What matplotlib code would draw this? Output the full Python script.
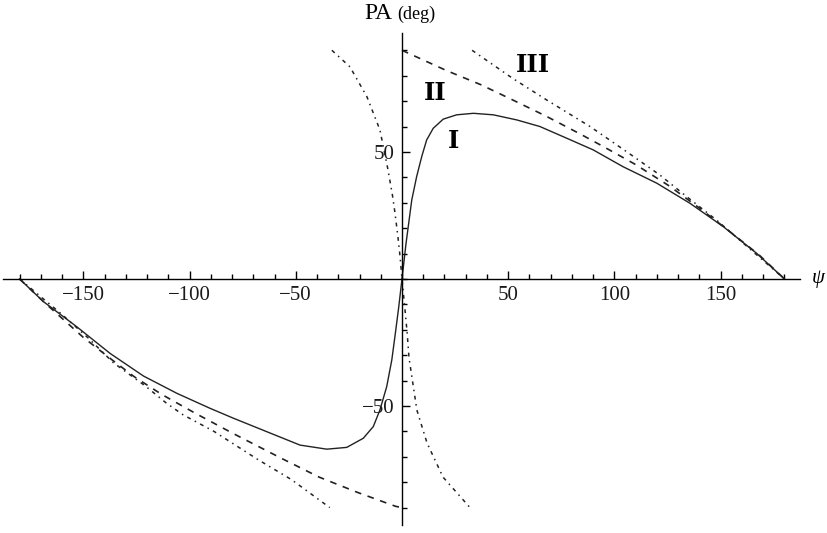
import numpy as np
import matplotlib

matplotlib.use("Agg")

import matplotlib.pyplot as plt
from matplotlib.ticker import FixedLocator

# ==================================================
# DATA
# ==================================================

# curve I (solid)
psi_I_left = [-180, -168.8, -153.1, -137.4, -121.7, -106, -90.4, -79.4, -63.7,
              -48, -35.4, -26, -18.2, -13.5, -10.4, -7.2, -4.8, -3.3, -1.6, 0]
pa_I_left = [0, -8.9, -18.8, -29.3, -38.2, -45, -50.9, -54.8, -60.1,
             -65.4, -67, -66.3, -62.7, -58.1, -51.6, -42.4, -31.9, -22.5, -11.5, 0]
psi_I_right = [0, 1.9, 4.6, 6.9, 9.3, 11.6, 14.7, 19.4, 25.7, 33.6, 43, 54,
               64.9, 77.5, 90, 104, 119.9, 135.5, 151.2, 166.9, 180]
pa_I_right = [0, 14, 31.1, 40.3, 48.2, 54.7, 59.3, 62.9, 64.6, 65.2, 64.6, 62.6,
              60, 55.4, 50.8, 44.2, 37.7, 29.8, 20.6, 10.1, 0]

# curve II (dashed)
psi_II_left = [-180, -168, -150, -137, -126, -113, -97, -80, -57, -39, -21, -3, 0]
pa_II_left = [0, -9.5, -23, -31.5, -38.5, -45.5, -53, -60.6, -70.5, -78, -84, -89.5, -90]
psi_II_right = [0, 21, 37, 52, 68, 84, 95, 110, 126, 139, 153, 168, 180]
pa_II_right = [90, 82, 76.5, 70.5, 64, 57, 52, 45, 36.5, 28.5, 19.5, 9.5, 0]

# curve III (dash-dot), three branches
psi_III_left = [-180, -160, -148, -135.8, -121, -110.7, -103, -88.5, -68, -52, -34]
pa_III_left = [0, -14, -23, -33, -42, -49, -53.5, -60, -71, -79, -90]
psi_III_mid = [-33, -24.5, -16.5, -10.4, -6.6, -4.5, -3.3, -1.9, -0.9, 0,
               1.4, 2.4, 3.3, 7, 11.8, 19.3, 32]
pa_III_mid = [90, 83.5, 71.7, 58.7, 43, 33, 26, 16.5, 8.7, 0,
              -12, -21, -31, -51.6, -64.6, -78, -90]
psi_III_right = [33, 52, 68, 88.5, 105.7, 121.4, 134, 148, 160.6, 180]
pa_III_right = [90, 79, 70.5, 60, 50.1, 40.9, 32.4, 23.2, 14.1, 0]

curve_labels = ["I", "II", "III"]
label_psi = [24.5, 15.5, 61.6]
label_pa = [51.6, 70.5, 81.6]

x_major = [-150, -100, -50, 50, 100, 150]
x_minor = list(range(-180, 181, 10))
y_major = [-50, 50]
y_minor = list(range(-90, 91, 10))

# ==================================================
# FIGURE
# ==================================================

fig = plt.figure(figsize=(8.28, 5.33), dpi=100)
ax = fig.add_axes([0, 0, 1, 1])
ax.set_xlim(-189.2, 200.5)
ax.set_ylim(-100, 109.8)

line_color = "#222222"
solid = dict(color=line_color, lw=1.0, linestyle="-")
dashed = dict(color=line_color, lw=1.2, linestyle=(0, (4, 4)))
dashdot = dict(color=line_color, lw=1.1, linestyle=(0, (2.5, 3, 1, 3)))

ax.plot(psi_I_left, pa_I_left, **solid)
ax.plot(psi_I_right, pa_I_right, **solid)
ax.plot(psi_II_left, pa_II_left, **dashed)
ax.plot(psi_II_right, pa_II_right, **dashed)
ax.plot(psi_III_left, pa_III_left, **dashdot)
ax.plot(psi_III_mid, pa_III_mid, **dashdot)
ax.plot(psi_III_right, pa_III_right, **dashdot)

for lab, px, py in zip(curve_labels, label_psi, label_pa):
    ax.text(px, py, lab, ha="center", va="baseline",
            family="DejaVu Serif", weight="bold", fontsize=17.5)

# ==================================================
# AXES THROUGH THE ORIGIN
# ==================================================

for side in ["top", "right"]:
    ax.spines[side].set_visible(False)

ax.spines["left"].set_position(("data", 0))
ax.spines["bottom"].set_position(("data", 0))
ax.spines["left"].set_bounds(-97, 97)
ax.spines["bottom"].set_bounds(-188, 187.5)
for side in ["left", "bottom"]:
    ax.spines[side].set_linewidth(1.0)
    ax.spines[side].set_color("black")

ax.xaxis.set_major_locator(FixedLocator(x_major))
ax.xaxis.set_minor_locator(FixedLocator(x_minor))
ax.yaxis.set_major_locator(FixedLocator(y_major))
ax.yaxis.set_minor_locator(FixedLocator(y_minor))

ax.tick_params(axis="both", which="both", direction="in", width=1.0,
               labelsize=15, colors="black")
ax.tick_params(axis="both", which="major", length=5.5)
ax.tick_params(axis="both", which="minor", length=3.5)
ax.tick_params(axis="x", which="major", pad=5)
ax.tick_params(axis="y", which="major", pad=5)

for lab in ax.get_xticklabels() + ax.get_yticklabels():
    lab.set_family("Liberation Serif")
    lab.set_color("#1a1a1a")

# axis titles
ax.text(-17.5, 102.5, "PA", ha="left", va="baseline",
        family="Liberation Serif", fontsize=17)
ax.text(-2.2, 102.5, "(deg)", ha="left", va="baseline",
        family="Liberation Serif", fontsize=13)
ax.text(196, 0, "ψ", ha="center", va="center",
        family="Liberation Serif", style="italic", fontsize=15)

fig.savefig("out.png", dpi=100)
